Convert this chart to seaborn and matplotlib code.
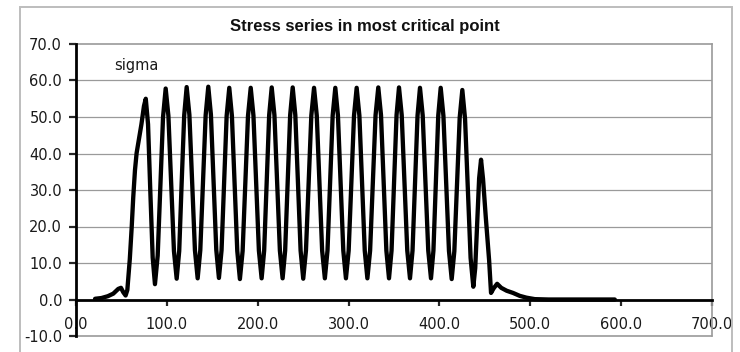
import matplotlib
matplotlib.use("Agg")
import matplotlib.pyplot as plt
from matplotlib.patches import Rectangle
from matplotlib.ticker import FormatStrFormatter
import pandas as pd
import seaborn as sns

# --- data -------------------------------------------------------------
# lead-in: slow build-up and the first load ramp
t_start = [21.0, 28.0, 35.0, 41.0, 46.5, 49.5, 52.0, 54.6, 56.5, 57.5,
           59.2, 61.3, 63.0, 64.9, 66.7, 69.0, 72.0, 74.8, 76.8,
           79.3, 81.8, 84.4, 86.9]
s_start = [0.2, 0.4, 0.9, 1.6, 2.9, 3.2, 2.0, 1.1, 2.6, 5.7,
           11.0, 19.8, 28.0, 35.4, 40.1, 43.5, 48.0, 53.0, 55.0,
           48.0, 29.6, 11.5, 4.2]

# steady load cycles (trough -> peak -> trough ...)
t_cycles = [89.9, 92.8, 95.8, 98.7, 101.7, 104.7, 107.8, 110.8,
            113.6, 116.3, 119.1, 121.8, 124.8, 127.9, 130.9, 133.9,
            136.8, 139.8, 142.7, 145.6, 148.5, 151.5, 154.4, 157.3,
            160.2, 163.0, 165.8, 168.7, 171.6, 174.6, 177.5, 180.4,
            183.4, 186.4, 189.3, 192.3, 195.3, 198.3, 201.3, 204.3,
            207.1, 209.9, 212.6, 215.4, 218.4, 221.4, 224.4, 227.4,
            230.2, 233.0, 235.7, 238.5, 241.4, 244.3, 247.2, 250.1,
            253.1, 256.1, 259.0, 262.0, 265.0, 267.9, 270.9, 273.9,
            276.8, 279.7, 282.5, 285.4, 288.3, 291.3, 294.2, 297.1,
            300.1, 303.0, 306.0, 308.9, 311.9, 314.8, 317.8, 320.7,
            323.7, 326.7, 329.7, 332.7, 335.7, 338.6, 341.6, 344.5,
            347.3, 350.0, 352.8, 355.5, 358.5, 361.6, 364.6, 367.6,
            370.4, 373.1, 375.9, 378.6, 381.6, 384.7, 387.7, 390.7,
            393.4, 396.1, 398.7, 401.4, 404.4, 407.5, 410.5, 413.5,
            416.4, 419.4, 422.3, 425.2, 428.2, 431.3, 434.3, 437.3]
s_cycles = [12.0, 31.0, 50.0, 57.8, 50.3, 31.8, 13.3, 5.7,
            13.3, 32.0, 50.5, 58.2, 50.6, 32.0, 13.5, 5.8,
            13.5, 32.0, 50.5, 58.3, 50.6, 32.1, 13.6, 5.9,
            13.5, 32.0, 50.3, 58.0, 50.3, 31.8, 13.3, 5.6,
            13.3, 31.8, 50.3, 58.0, 50.4, 31.9, 13.4, 5.8,
            13.4, 32.0, 50.5, 58.1, 50.5, 32.0, 13.4, 5.8,
            13.4, 32.0, 50.5, 58.1, 50.5, 31.9, 13.4, 5.7,
            13.4, 31.9, 50.4, 58.0, 50.4, 31.9, 13.4, 5.8,
            13.4, 31.9, 50.4, 58.0, 50.4, 31.9, 13.4, 5.8,
            13.4, 31.9, 50.4, 58.0, 50.4, 31.9, 13.4, 5.8,
            13.4, 32.0, 50.5, 58.1, 50.5, 32.0, 13.4, 5.8,
            13.4, 32.0, 50.5, 58.1, 50.5, 32.0, 13.4, 5.8,
            13.4, 31.9, 50.4, 58.0, 50.4, 31.9, 13.4, 5.8,
            13.4, 31.9, 50.4, 58.0, 50.3, 31.8, 13.3, 5.6,
            13.2, 31.5, 49.8, 57.4, 49.5, 30.5, 11.4, 3.5]

# run-out: last partial cycle and decay to zero
t_end = [439.4, 441.5, 443.7, 445.8, 448.0, 451.0, 454.7, 456.8,
         459.5, 463.5, 468.0, 474.0, 481.0, 488.4, 495.8, 505.0,
         520.0, 593.0]
s_end = [8.6, 20.9, 33.2, 38.3, 33.0, 22.6, 10.7, 1.8,
         3.0, 4.3, 3.2, 2.4, 1.8, 1.0, 0.5, 0.1,
         0.0, 0.0]

x_ticks = [0, 100, 200, 300, 400, 500, 600, 700]
y_ticks = [-10, 0, 10, 20, 30, 40, 50, 60, 70]

df = pd.DataFrame({"t": t_start + t_cycles + t_end,
                   "sigma": s_start + s_cycles + s_end})

# --- figure -----------------------------------------------------------
sns.set_style("white")
plt.rcParams["font.family"] = ["DejaVu Sans"]

W, H = 740, 352
fig = plt.figure(figsize=(W / 100, H / 100), dpi=100)
ax = fig.add_axes([76 / W, 1 - 336 / H, (712 - 76) / W, (336 - 44) / H])

# chart frame around everything
fig.patches.append(Rectangle((20 / W, -0.05), (732 - 20) / W, 1 - 7 / H + 0.05,
                             transform=fig.transFigure, fill=False,
                             edgecolor="#bdbdbd", linewidth=1.4))

grid_c = "#9a9a9a"
for y in y_ticks[2:-1]:
    ax.axhline(y, color=grid_c, linewidth=0.9, zorder=0.5)
ax.axhline(-10, color=grid_c, linewidth=1.2, zorder=0.5, clip_on=False)

sns.lineplot(data=df, x="t", y="sigma", ax=ax, color="black",
             linewidth=3.1, estimator=None, sort=False, legend=False,
             solid_joinstyle="round", solid_capstyle="round", zorder=3)

ax.set_xlim(0, 700)
ax.set_ylim(-10, 70)
ax.set_xticks(x_ticks)
ax.set_yticks(y_ticks)
ax.xaxis.set_major_formatter(FormatStrFormatter("%.1f"))
ax.yaxis.set_major_formatter(FormatStrFormatter("%.1f"))
ax.set_xlabel("")
ax.set_ylabel("")

ax.spines["bottom"].set_position(("data", 0))
ax.spines["bottom"].set_color("black")
ax.spines["bottom"].set_linewidth(2.0)
ax.spines["left"].set_color("black")
ax.spines["left"].set_linewidth(2.0)
ax.spines["left"].set_zorder(4)
for side in ("top", "right"):
    ax.spines[side].set_color(grid_c)
    ax.spines[side].set_linewidth(1.2)

ax.tick_params(axis="x", direction="out", length=4, width=1.6,
               pad=8.5, labelsize=10.5, labelcolor="#1a1a1a", bottom=True)
ax.tick_params(axis="y", direction="out", length=5, width=1.6,
               pad=5.0, labelsize=10.5, labelcolor="#1a1a1a", left=True)

ax.text(42.2, 63.0, "sigma", ha="left", va="baseline",
        fontsize=10.5, color="#1a1a1a")

fig.text(365 / W, 1 - 31 / H, "Stress series in most critical point",
         ha="center", va="baseline", fontsize=12, fontweight="bold",
         family=["Liberation Sans", "DejaVu Sans"], color="#111111")

fig.savefig("out.png", dpi=100)
